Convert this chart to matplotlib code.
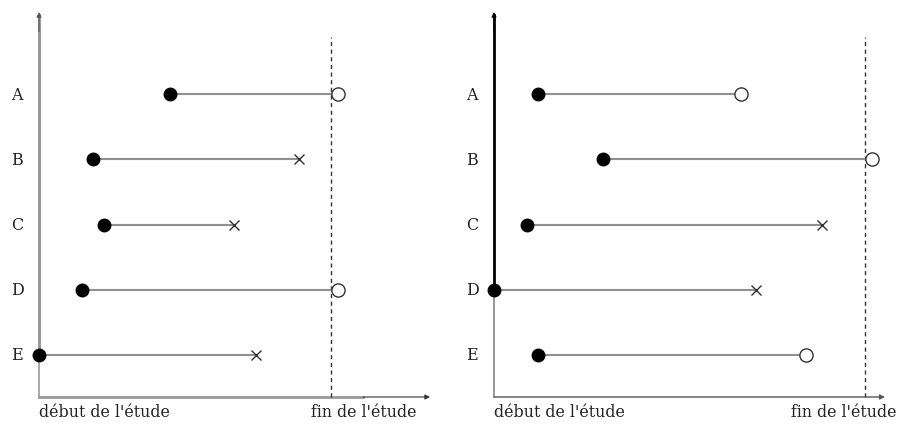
import matplotlib
matplotlib.use("Agg")
import matplotlib.pyplot as plt
from matplotlib.transforms import offset_copy

subjects = ["A", "B", "C", "D", "E"]
rows = [5, 4, 3, 2, 1]
# left panel
left_start = [4.49, 1.85, 2.23, 1.47, 0.0]
left_end = [10.24, 8.9, 6.68, 10.24, 7.43]
left_censored = [True, False, False, True, False]
# right panel
right_start = [1.19, 2.94, 0.89, 0.0, 1.19]
right_end = [6.66, 10.19, 8.84, 7.06, 8.41]
right_censored = [True, True, False, False, True]
study_end = 10.0
label_start = "début de l'étude"
label_end = "fin de l'étude"

W, H = 897, 427
fig = plt.figure(figsize=(W / 100, H / 100), dpi=100)
FONT = dict(family="DejaVu Serif", fontsize=11.4)
LINEC = "#909090"


def panel(x0, xpx_unit, starts, ends, cens, endlabel_x, left_style):
    right_px = 391
    ax = fig.add_axes([x0 / W, 29 / H, right_px / W, 385 / H])
    ax.set_xlim(0, right_px / xpx_unit)
    # y: row 1 at 356px, spacing 65.25 px, bottom at 398px, top at 13px
    ypx = 65.25
    ax.set_ylim(1 - 42 / ypx, 1 + 343 / ypx)
    ax.axis("off")
    xmax = right_px / xpx_unit
    ybot = 1 - 42 / ypx
    ytop = 1 + 343 / ypx
    # axes
    if left_style:
        ax.plot([0, 0], [1, ytop - 0.05], color="#999999", lw=2.2, clip_on=False, zorder=1)
        ax.plot([0, 0], [ybot, 1], color="#999999", lw=1.2, clip_on=False, zorder=1)
        ax.plot([0, 11.1], [ybot, ybot], color="#999999", lw=2.0, clip_on=False, zorder=1)
        ax.annotate("", xy=(xmax, ybot), xytext=(11.1, ybot),
                    arrowprops=dict(arrowstyle="-|>", color="#333333", lw=0.8,
                                    mutation_scale=7, shrinkA=0, shrinkB=0))
        ax.annotate("", xy=(0, ytop), xytext=(0, ytop - 0.3),
                    arrowprops=dict(arrowstyle="-|>", color="#555555", lw=0.8,
                                    mutation_scale=7, shrinkA=0, shrinkB=0))
    else:
        ax.plot([0, 0], [2, ytop - 0.05], color="black", lw=2.0, clip_on=False, zorder=1)
        ax.plot([0, 0], [ybot, 2], color="#888888", lw=1.2, clip_on=False, zorder=1)
        ax.annotate("", xy=(0, ytop), xytext=(0, ytop - 0.3),
                    arrowprops=dict(arrowstyle="-|>", color="black", lw=0.8,
                                    mutation_scale=7, shrinkA=0, shrinkB=0))
        ax.annotate("", xy=(xmax, ybot), xytext=(0, ybot),
                    arrowprops=dict(arrowstyle="-|>", color="#555555", lw=1.0,
                                    mutation_scale=7, shrinkA=0, shrinkB=0))
    # study end dashed
    ax.plot([study_end, study_end], [ybot, 1 + 318 / ypx], color="#333333",
            lw=1.0, ls=(0, (3, 2.5)), zorder=1, clip_on=False)
    for s, e, c, r, name in zip(starts, ends, cens, rows, subjects):
        ax.plot([s, e], [r, r], color=LINEC, lw=1.5, zorder=2, solid_capstyle="butt")
        ax.plot(s, r, "o", ms=9, color="black", zorder=3, clip_on=False)
        if c:
            ax.plot(e, r, "o", ms=9.5, mfc="white", mec="#333333", mew=1.0, zorder=3)
        else:
            ax.plot(e, r, "x", ms=7.5, color="#333333", mew=1.0, zorder=3)
        tr = offset_copy(ax.transData, fig=fig, x=-22 * 0.72, y=0, units="points")
        ax.text(0, r, name, transform=tr, ha="center", va="center", color="#222222", **FONT)
    tr = offset_copy(ax.transData, fig=fig, x=0, y=-15 * 0.72, units="points")
    ax.text(0, ybot, label_start, transform=tr, ha="left", va="center", color="#222222", **FONT)
    ax.text(endlabel_x, ybot, label_end, transform=tr, ha="center", va="center", color="#222222", **FONT)
    return ax


panel(39, 29.2, left_start, left_end, left_censored, 11.13, True)
panel(494, 37.1, right_start, right_end, right_censored, 9.43, False)

fig.savefig("out.png", dpi=100)
